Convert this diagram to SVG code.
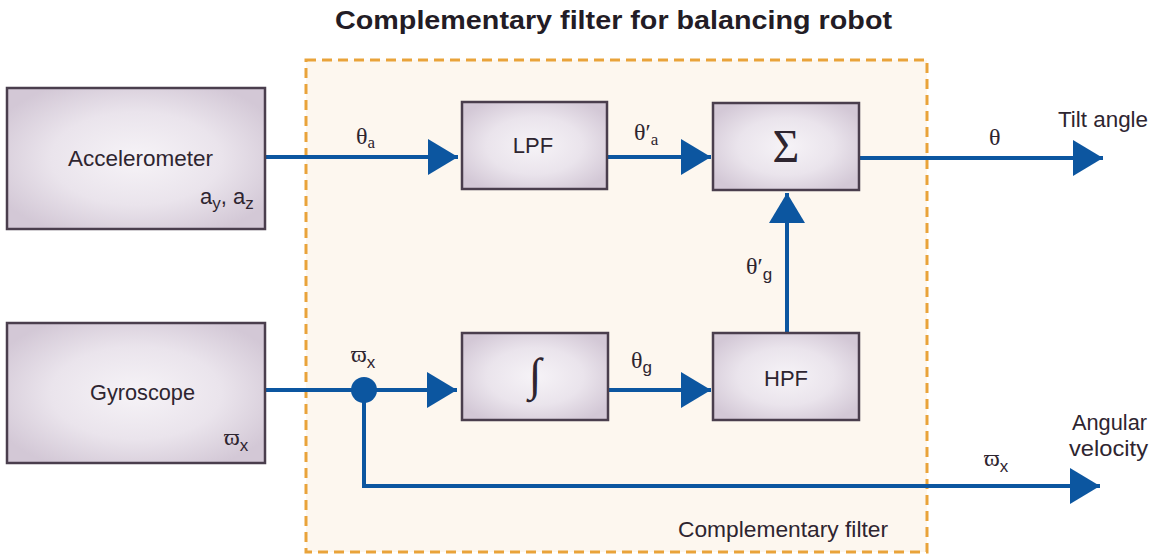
<svg xmlns="http://www.w3.org/2000/svg" width="1159" height="555" viewBox="0 0 1159 555">
<defs>
<radialGradient id="boxg" cx="50%" cy="50%" r="60%">
<stop offset="0" stop-color="#F6F3F7"/>
<stop offset="0.55" stop-color="#EAE4EC"/>
<stop offset="1" stop-color="#D3C8D6"/>
</radialGradient>
<marker id="arr" markerUnits="userSpaceOnUse" markerWidth="30" markerHeight="36" refX="30" refY="18" orient="auto">
<path d="M0,0 L30,18 L0,36 Z" fill="#0C56A0"/>
</marker>
</defs>
<style>
.box{fill:url(#boxg);stroke:#4A3E4D;stroke-width:2.5}
.lbl{font-family:"Liberation Sans",Arial,sans-serif;font-size:22px;fill:#2E2530}
.title{font-family:"Liberation Sans",Arial,sans-serif;font-size:26px;font-weight:bold;fill:#231C25}
.sym{font-family:"Liberation Serif","Times New Roman",serif;font-size:24px;fill:#2E2530}
.sub{font-size:17px}
.ss{font-family:"Liberation Sans",Arial,sans-serif;font-size:17px}
.big{font-size:46px}
.wire{fill:none;stroke:#0C56A0;stroke-width:4}
</style>
<rect width="1159" height="555" fill="#FFFFFF"/>
<text class="title" x="335" y="29" textLength="557" lengthAdjust="spacingAndGlyphs">Complementary filter for balancing robot</text>

<g id="filter-boundary">
<rect x="306" y="60" width="621" height="492" fill="#FDF7EF" stroke="#E9A33A" stroke-width="3" stroke-dasharray="10 6"/>
<text class="lbl" x="678" y="537" textLength="210" lengthAdjust="spacingAndGlyphs">Complementary filter</text>
</g>

<g id="connectors">
<line class="wire" x1="265" y1="157" x2="458" y2="157" marker-end="url(#arr)"/>
<line class="wire" x1="607" y1="157" x2="711" y2="157" marker-end="url(#arr)"/>
<line class="wire" x1="859" y1="158" x2="1103" y2="158" marker-end="url(#arr)"/>
<line class="wire" x1="787" y1="333" x2="787" y2="193" marker-end="url(#arr)"/>
<line class="wire" x1="265" y1="390" x2="457" y2="390" marker-end="url(#arr)"/>
<line class="wire" x1="608" y1="390" x2="711" y2="390" marker-end="url(#arr)"/>
<polyline class="wire" points="364,390 364,486 1100,486" marker-end="url(#arr)"/>
<circle cx="364" cy="390" r="13" fill="#0C56A0"/>
<text class="sym" x="356" y="144">θ<tspan class="sub" dy="4">a</tspan></text>
<text class="sym" x="634" y="140">θ′<tspan class="sub" dy="5">a</tspan></text>
<text class="sym" x="989" y="145">θ</text>
<text class="sym" x="746" y="274">θ′<tspan class="ss" dy="6">g</tspan></text>
<text class="sym" x="631" y="368">θ<tspan class="ss" dy="5">g</tspan></text>
<text class="sym" x="351" y="362">ϖ<tspan class="ss" dy="6">x</tspan></text>
<text class="sym" x="984" y="466">ϖ<tspan class="ss" dy="6">x</tspan></text>
<text class="lbl" x="1058" y="127" textLength="90" lengthAdjust="spacingAndGlyphs">Tilt angle</text>
<text class="lbl" x="1072" y="430" textLength="75" lengthAdjust="spacingAndGlyphs">Angular</text>
<text class="lbl" x="1069" y="456" textLength="79" lengthAdjust="spacingAndGlyphs">velocity</text>
</g>

<g id="accelerometer">
<rect class="box" x="7" y="88" width="258" height="141"/>
<text class="lbl" x="68" y="166" textLength="145" lengthAdjust="spacingAndGlyphs">Accelerometer</text>
<text class="lbl" x="200" y="204">a<tspan class="ss" dy="5">y</tspan><tspan dy="-5">, a</tspan><tspan class="ss" dy="5">z</tspan></text>
</g>

<g id="gyroscope">
<rect class="box" x="7" y="323" width="258" height="140"/>
<text class="lbl" x="90" y="400" textLength="105" lengthAdjust="spacingAndGlyphs">Gyroscope</text>
<text class="sym" x="224" y="445">ϖ<tspan class="ss" dy="6">x</tspan></text>
</g>

<g id="lpf">
<rect class="box" x="462" y="102" width="145" height="87"/>
<text class="lbl" x="533" y="153" text-anchor="middle">LPF</text>
</g>

<g id="sum">
<rect class="box" x="713" y="103" width="146" height="87"/>
<text class="sym big" x="786" y="162" text-anchor="middle">Σ</text>
</g>

<g id="integrator">
<rect class="box" x="462" y="333" width="146" height="87"/>
<text class="sym big" x="535" y="390" text-anchor="middle">∫</text>
</g>

<g id="hpf">
<rect class="box" x="713" y="333" width="146" height="87"/>
<text class="lbl" x="786" y="386" text-anchor="middle">HPF</text>
</g>
</svg>
